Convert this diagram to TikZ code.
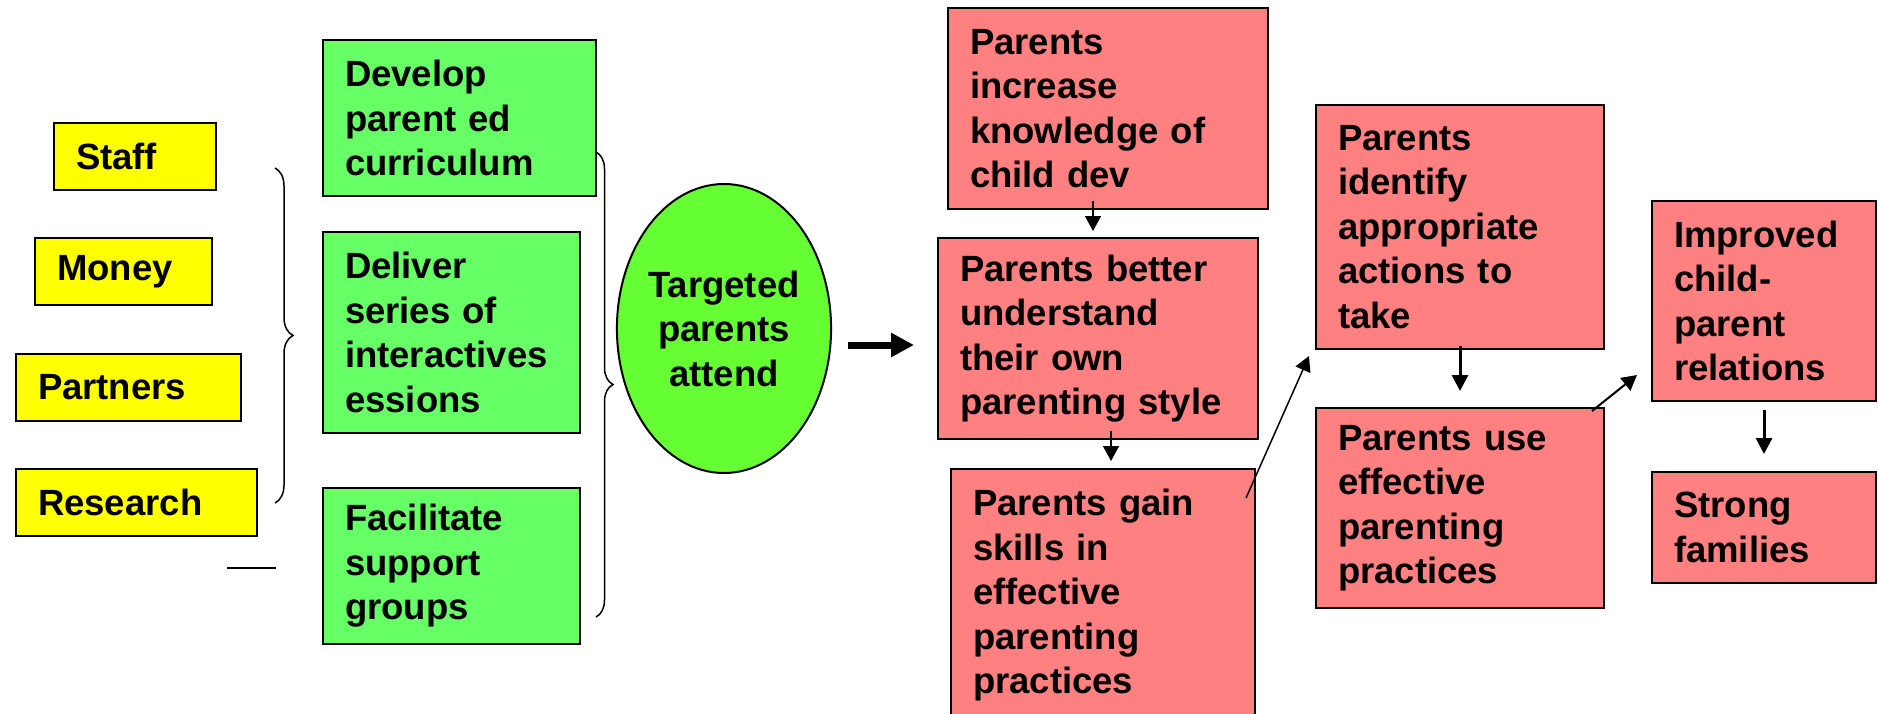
\documentclass[tikz,border=0pt]{standalone}
\usepackage{fontspec}
\setmainfont{Liberation Sans}
\usepackage{xcolor}
\usetikzlibrary{arrows.meta, shapes.geometric, decorations.pathreplacing, positioning}
\definecolor{inyellow}{RGB}{255,255,0}
\definecolor{actgreen}{RGB}{102,255,102}
\definecolor{attgreen}{RGB}{102,255,51}
\definecolor{outpink}{RGB}{255,128,128}
\tikzset{
    box/.style={draw=black, line width=2pt, inner xsep=22pt, inner ysep=0pt, align=left,
        font=\fontsize{36.5}{44.5}\selectfont\bfseries},
    inbox/.style={box, fill=inyellow},
    actbox/.style={box, fill=actgreen},
    outbox/.style={box, fill=outpink},
    curly/.style={decorate, decoration={brace, amplitude=#1}, line width=1.5pt},
    thinarr/.style={line width=1.5pt, -{Triangle[length=15pt,width=16pt]}},
    midarr/.style={line width=3pt, -{Triangle[length=16pt,width=16pt]}},
    fatarr/.style={line width=7pt, -{Triangle[length=23pt,width=23pt]}}
}

\begin{document}
\begin{tikzpicture}[x=1pt, y=-1pt]
                        \useasboundingbox (0,0) rectangle (1878,713);
                        \clip (0,0) rectangle (1878,713);
                        % inputs
                        \foreach \n/\t/\x/\y/\w in {staff/Staff/135/156/162, money/Money/123.5/271.5/177,
                            partners/Partners/128.5/387.5/225, research/Research/136.5/502.5/241} {
                            \pgfmathsetmacro\tw{\w-44}
                            \node[inbox, text width=\tw pt, minimum height=67pt] (\n) at (\x,\y) {\t};
                        }
                        \draw[curly=18pt] (275,168) -- (275,503);
                        \coordinate (s1) at (227,568);
                        \coordinate (s2) at (276,568);
                        \draw[line width=1.5pt] (s1) -- (s2);
                        % activities
                        \node[actbox, text width=229pt, minimum height=156pt] (develop) at (459.5,118) {Develop\\parent ed\\curriculum};
                        \node[actbox, text width=213pt, minimum height=201pt] (deliver) at (451.5,332.5) {Deliver\\series of\\interactives\\essions};
                        \node[actbox, text width=213pt, minimum height=156pt] (facilitate) at (451.5,566) {Facilitate\\support\\groups};
                        \draw[curly=17pt] (596,152) -- (596,617);
                        \node[draw, ellipse, line width=2pt, fill=attgreen, minimum width=192pt, minimum height=289pt,
                            inner sep=0pt, align=center, font=\fontsize{36.5}{44.5}\selectfont\bfseries] (attend) at (724,328.5) {Targeted\\parents\\attend};
                        % outcomes
                        \node[outbox, text width=276pt, minimum height=201pt] (know) at (1108,108.5) {Parents\\increase\\knowledge of\\child dev};
                        \node[outbox, text width=276pt, minimum height=201pt] (style) at (1098,338.5) {Parents better\\understand\\their own\\parenting style};
                        \node[outbox, text width=260pt, minimum height=253pt] (skills) at (1103,595.5) {Parents gain\\skills in\\effective\\parenting\\practices};
                        \node[outbox, text width=244pt, minimum height=244pt] (identify) at (1460,227) {Parents\\identify\\appropriate\\actions to\\take};
                        \node[outbox, text width=244pt, minimum height=200pt] (use) at (1460,508) {Parents use\\effective\\parenting\\practices};
                        \node[outbox, text width=180pt, minimum height=200pt] (relations) at (1764,301) {Improved\\child-\\parent\\relations};
                        \node[outbox, text width=180pt, minimum height=111pt] (strong) at (1764,527.5) {Strong\\families};
                        \draw
                        ([xshift=16pt,yshift=-16.5pt]attend.east) edge[fatarr] ([xshift=-23pt,yshift=-6.5pt]style.west)
                        ([xshift=-15pt,yshift=9pt]know.south) edge[thinarr] ([xshift=-5pt,yshift=6pt]style.north)
                        ([xshift=13pt,yshift=9pt]style.south) edge[thinarr] ([xshift=8pt,yshift=7pt]skills.north)
                        ([xshift=-10pt,yshift=-30pt]skills.north east) edge[thinarr] ([xshift=-6pt,yshift=-6pt]identify.south west)
                        ([yshift=4pt]identify.south) edge[midarr] ([yshift=16pt]use.north)
                        ([xshift=-13pt,yshift=-4pt]use.north east) edge[thinarr, line width=2pt] ([xshift=-14pt,yshift=27pt]relations.south west)
                        ([yshift=-8pt]relations.south) edge[midarr] ([yshift=17pt]strong.north);
\end{tikzpicture}
\end{document}
